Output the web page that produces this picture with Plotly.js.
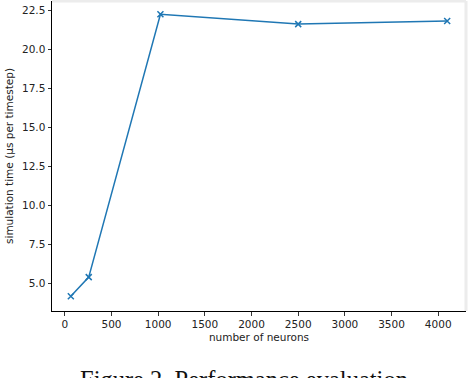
<!DOCTYPE html>
<html>
<head>
<meta charset="utf-8">
<script src="https://cdn.plot.ly/plotly-3.0.1.min.js"></script>
<style>
  html, body { margin: 0; padding: 0; background: #fff; }
  #chart { width: 468px; height: 378px; }
</style>
</head>
<body>
<div id="chart"></div>
<script>
// number of neurons vs simulation time
const neurons = [64, 256, 1024, 2500, 4096];
const simTime = [4.2, 5.42, 22.25, 21.62, 21.82];
const xTicks = [0, 500, 1000, 1500, 2000, 2500, 3000, 3500, 4000];
const yTicks = [5.0, 7.5, 10.0, 12.5, 15.0, 17.5, 20.0, 22.5];

const blue = '#1f77b4';
const tickFont = { family: 'DejaVu Sans', size: 10.5, color: '#222' };

const trace = {
  type: 'scatter',
  mode: 'lines+markers',
  x: neurons,
  y: simTime,
  line: { color: blue, width: 1.5 },
  marker: { symbol: 'x-thin', size: 6, color: blue, line: { color: blue, width: 1.5 } },
  hoverinfo: 'skip'
};

const layout = {
  width: 468,
  height: 378,
  margin: { l: 52, r: 2, t: 1, b: 67 },
  paper_bgcolor: '#fff',
  plot_bgcolor: '#fff',
  showlegend: false,
  xaxis: {
    range: [-137.6, 4297.6],
    tickvals: xTicks,
    ticktext: xTicks.map(String),
    ticks: 'outside',
    ticklen: 3.5,
    tickwidth: 0.8,
    tickcolor: '#000',
    showline: true,
    linecolor: '#000',
    linewidth: 1,
    showgrid: false,
    zeroline: false,
    tickfont: tickFont,
    title: { text: 'number of neurons', font: tickFont, standoff: 4 }
  },
  yaxis: {
    range: [3.25, 23.1],
    tickvals: yTicks,
    ticktext: yTicks.map(v => v.toFixed(1)),
    ticks: 'outside',
    ticklen: 3.5,
    tickwidth: 0.8,
    tickcolor: '#000',
    showline: true,
    linecolor: '#000',
    linewidth: 1,
    showgrid: false,
    zeroline: false,
    tickfont: tickFont,
    title: { text: 'simulation time (μs per timestep)', font: tickFont, standoff: 6 }
  },
  shapes: [
    { type: 'line', xref: 'paper', yref: 'paper', x0: 0, x1: 1, y0: 1, y1: 1,
      line: { color: '#ececec', width: 3 } },
    { type: 'line', xref: 'paper', yref: 'paper', x0: 1, x1: 1, y0: 0, y1: 1,
      line: { color: '#ececec', width: 3 } }
  ],
  annotations: [
    { text: 'Figure 2. Performance evaluation', xref: 'paper', yref: 'paper',
      x: 0.463, y: -0.17, xanchor: 'center', yanchor: 'top', showarrow: false,
      font: { family: 'Liberation Serif', size: 24.5, color: '#111' } }
  ]
};

Plotly.newPlot('chart', [trace], layout, { staticPlot: true, displayModeBar: false });
</script>
</body>
</html>
